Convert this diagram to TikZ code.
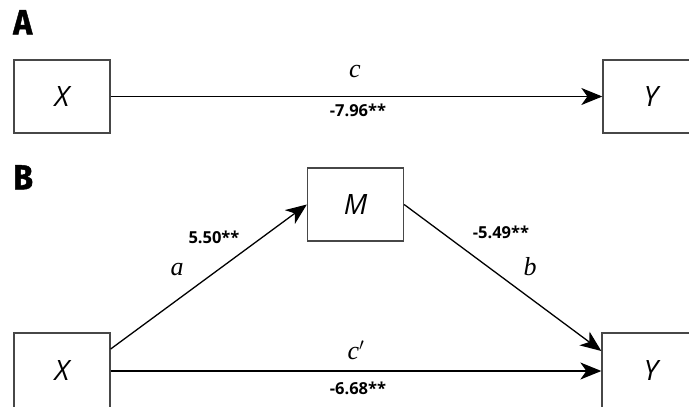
\documentclass[tikz,border=0pt]{standalone}
\usepackage{fontspec}
\setmainfont{Liberation Serif}
\newfontfamily\numfont{Open Sans}
\newfontfamily\varfont{Open Sans}
\newfontfamily\panelfont[FakeStretch=0.92, FakeBold=1.2]{Fira Sans}
\usetikzlibrary{arrows.meta}
\tikzset{
  varbox/.style={draw=black!72, line width=1.3pt, fill=white, minimum width=96pt, minimum height=73pt, inner sep=0pt, font=\varfont\itshape\fontsize{28}{30}\selectfont},
  arr/.style={line width=1.3pt, black, -{Stealth[length=21pt,width=17pt,inset=6pt]}},
  coef/.style={font=\numfont\bfseries\fontsize{16.5}{18}\selectfont, inner sep=0pt},
  pathlab/.style={font=\itshape\fontsize{26}{28}\selectfont, inner sep=0pt},
  panel/.style={font=\panelfont\bfseries\fontsize{35}{37}\selectfont, inner sep=0pt, anchor=north west}
}
\begin{document}
\begin{tikzpicture}[x=1pt,y=-1pt]
\clip (0,0) rectangle (689,407);
\fill[white] (0,0) rectangle (689,407);
% Panel A
\node[panel] (pa) at (13,10) {A};
\node[varbox] (xa) at (62,96.5) {X};
\node[varbox] (ya) at (651,96.5) {Y};
\draw[arr] (xa.east) -- (ya.west);
\node[pathlab] (lc) at (355,72) {c};
\node[coef] (ca) at (358,110) {-7.96**};
% Panel B
\node[panel] (pb) at (13,165) {B};
\node[varbox] (m) at (355.5,204.5) {M};
\node[varbox, minimum height=76pt] (xb) at (62,371) {X};
\node[varbox, minimum height=76pt, minimum width=98pt] (yb) at (651,371) {Y};
\draw[arr] ([yshift=22pt]xb.east) -- (m.west);
\draw[arr] (m.east) -- ([yshift=20pt]yb.west);
\draw[arr] (xb.east) -- (yb.west);
\node[coef] (ka) at (214,237) {5.50**};
\node[pathlab] (la) at (177,270) {a};
\node[coef] (kb) at (501,232) {-5.49**};
\node[pathlab] (lb) at (530,267) {b};
\node[pathlab] (lcp) at (356,350) {c$'$};
\node[coef] (kc) at (358,388) {-6.68**};
\end{tikzpicture}
\end{document}
